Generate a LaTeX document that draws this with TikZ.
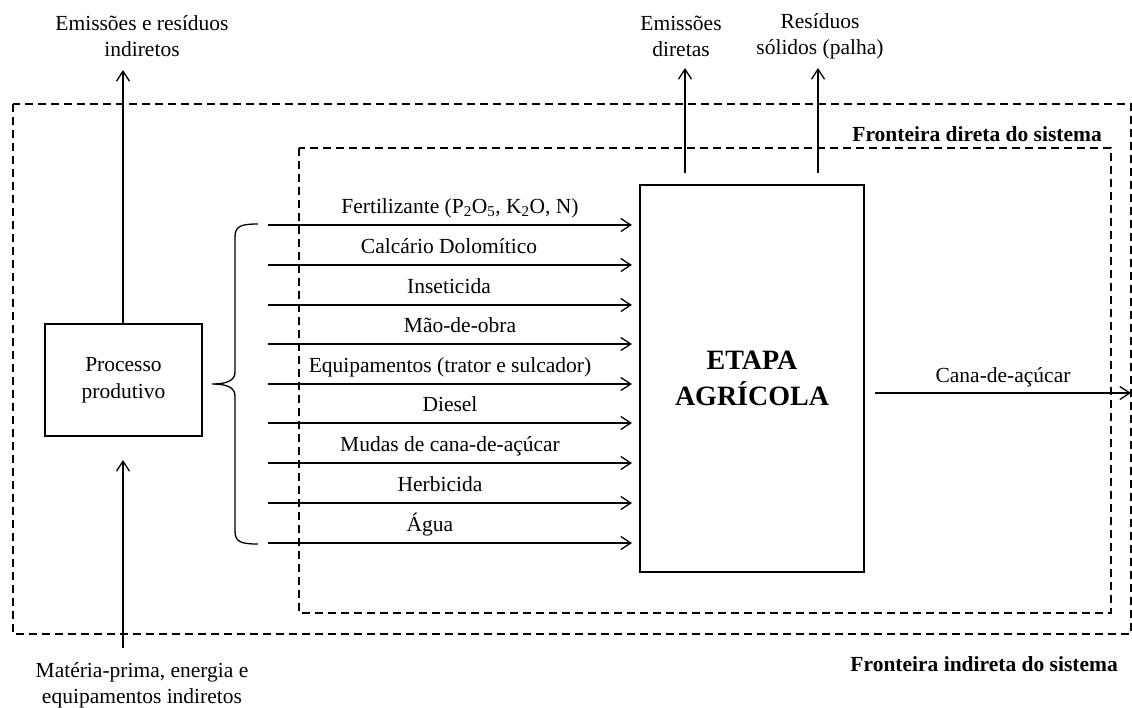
\documentclass[tikz,border=0pt]{standalone}
\usepackage{fontspec}
\setmainfont{Liberation Serif}
\usetikzlibrary{arrows.meta}
\begin{document}
\begin{tikzpicture}[x=1pt,y=-1pt,
  every node/.style={font=\fontsize{21.5}{26}\selectfont, inner sep=0pt},
  flow/.style={line width=1.3pt, -{Straight Barb[length=10pt,width=13pt,line width=1.3pt]}},
  boundary/.style={line width=1.6pt, dash pattern=on 8pt off 5pt},
  box/.style={draw, line width=1.3pt, align=center},
  lbl/.style={align=center},
  bnd/.style={font=\fontsize{21.5}{26}\selectfont\bfseries, anchor=base east}]
\useasboundingbox (0,0) rectangle (1132,707);

% system boundaries
\draw[boundary] (13,104) rectangle (1131,634);
\draw[boundary] (299,148) rectangle (1111,613);
\node[bnd] (fdir) at (1102,141) {Fronteira direta do sistema};
\node[bnd] (find) at (1118,671) {Fronteira indireta do sistema};

% main process boxes
\node[box, minimum width=224pt, minimum height=387pt,
      font=\fontsize{28}{36}\selectfont\bfseries] (etapa) at (752,378.5) {ETAPA\\AGRÍCOLA};
\node[box, minimum width=157pt, minimum height=112pt,
      font=\fontsize{21.5}{27}\selectfont] (proc) at (123.5,380) {Processo\\produtivo};

% inputs to the agricultural stage
\foreach \yy/\xx/\txt [count=\i] in {
  225/460/{Fertilizante (P\textsubscript{2}O\textsubscript{5}, K\textsubscript{2}O, N)},
  265/449/{Calcário Dolomítico},
  305/449/{Inseticida},
  344/460/{Mão-de-obra},
  384/450/{Equipamentos (trator e sulcador)},
  423/450/{Diesel},
  463/450/{Mudas de cana-de-açúcar},
  503/440/{Herbicida},
  543/430/{Água}} {
  \coordinate (in\i) at (268,\yy);
  \coordinate (out\i) at (632,\yy);
  \draw[flow] (in\i) -- (out\i);
  \node[anchor=base] (lab\i) at (\xx,\yy-11.5) {\txt};
}

% brace grouping the inputs
\draw[line width=1.3pt]
  (258,224) .. controls (241,224) and (235,226) .. (235,237)
  -- (235,372) .. controls (235,381) and (226,384) .. (212,384)
  .. controls (226,384) and (235,387) .. (235,396)
  -- (235,531) .. controls (235,542) and (241,544) .. (258,544);

% indirect flows of the production process
\coordinate (indtop) at (123,70);
\draw[flow] (proc.north -| indtop) -- (indtop);
\node[lbl] (indlbl) at (142,36) {Emissões e resíduos\\indiretos};

\coordinate (matin) at (123,648);
\coordinate (procin) at (123,460);
\draw[flow] (matin) -- (procin);
\node[lbl] (matlbl) at (142,685) {Matéria-prima, energia e\\equipamentos indiretos};

% direct outputs of the agricultural stage
\coordinate (em0) at (685,173);
\coordinate (em1) at (685,68);
\draw[flow] (em0) -- (em1);
\node[lbl] (emlbl) at (681,36) {Emissões\\diretas};

\coordinate (rs0) at (818,173);
\coordinate (rs1) at (818,68);
\draw[flow] (rs0) -- (rs1);
\node[lbl] (rslbl) at (820,36) {Resíduos\\sólidos (palha)};

% product
\coordinate (cana0) at (875,393);
\coordinate (cana1) at (1131,393);
\draw[flow] (cana0) -- (cana1);
\node[anchor=base] (canalbl) at (1003,382) {Cana-de-açúcar};
\end{tikzpicture}
\end{document}
